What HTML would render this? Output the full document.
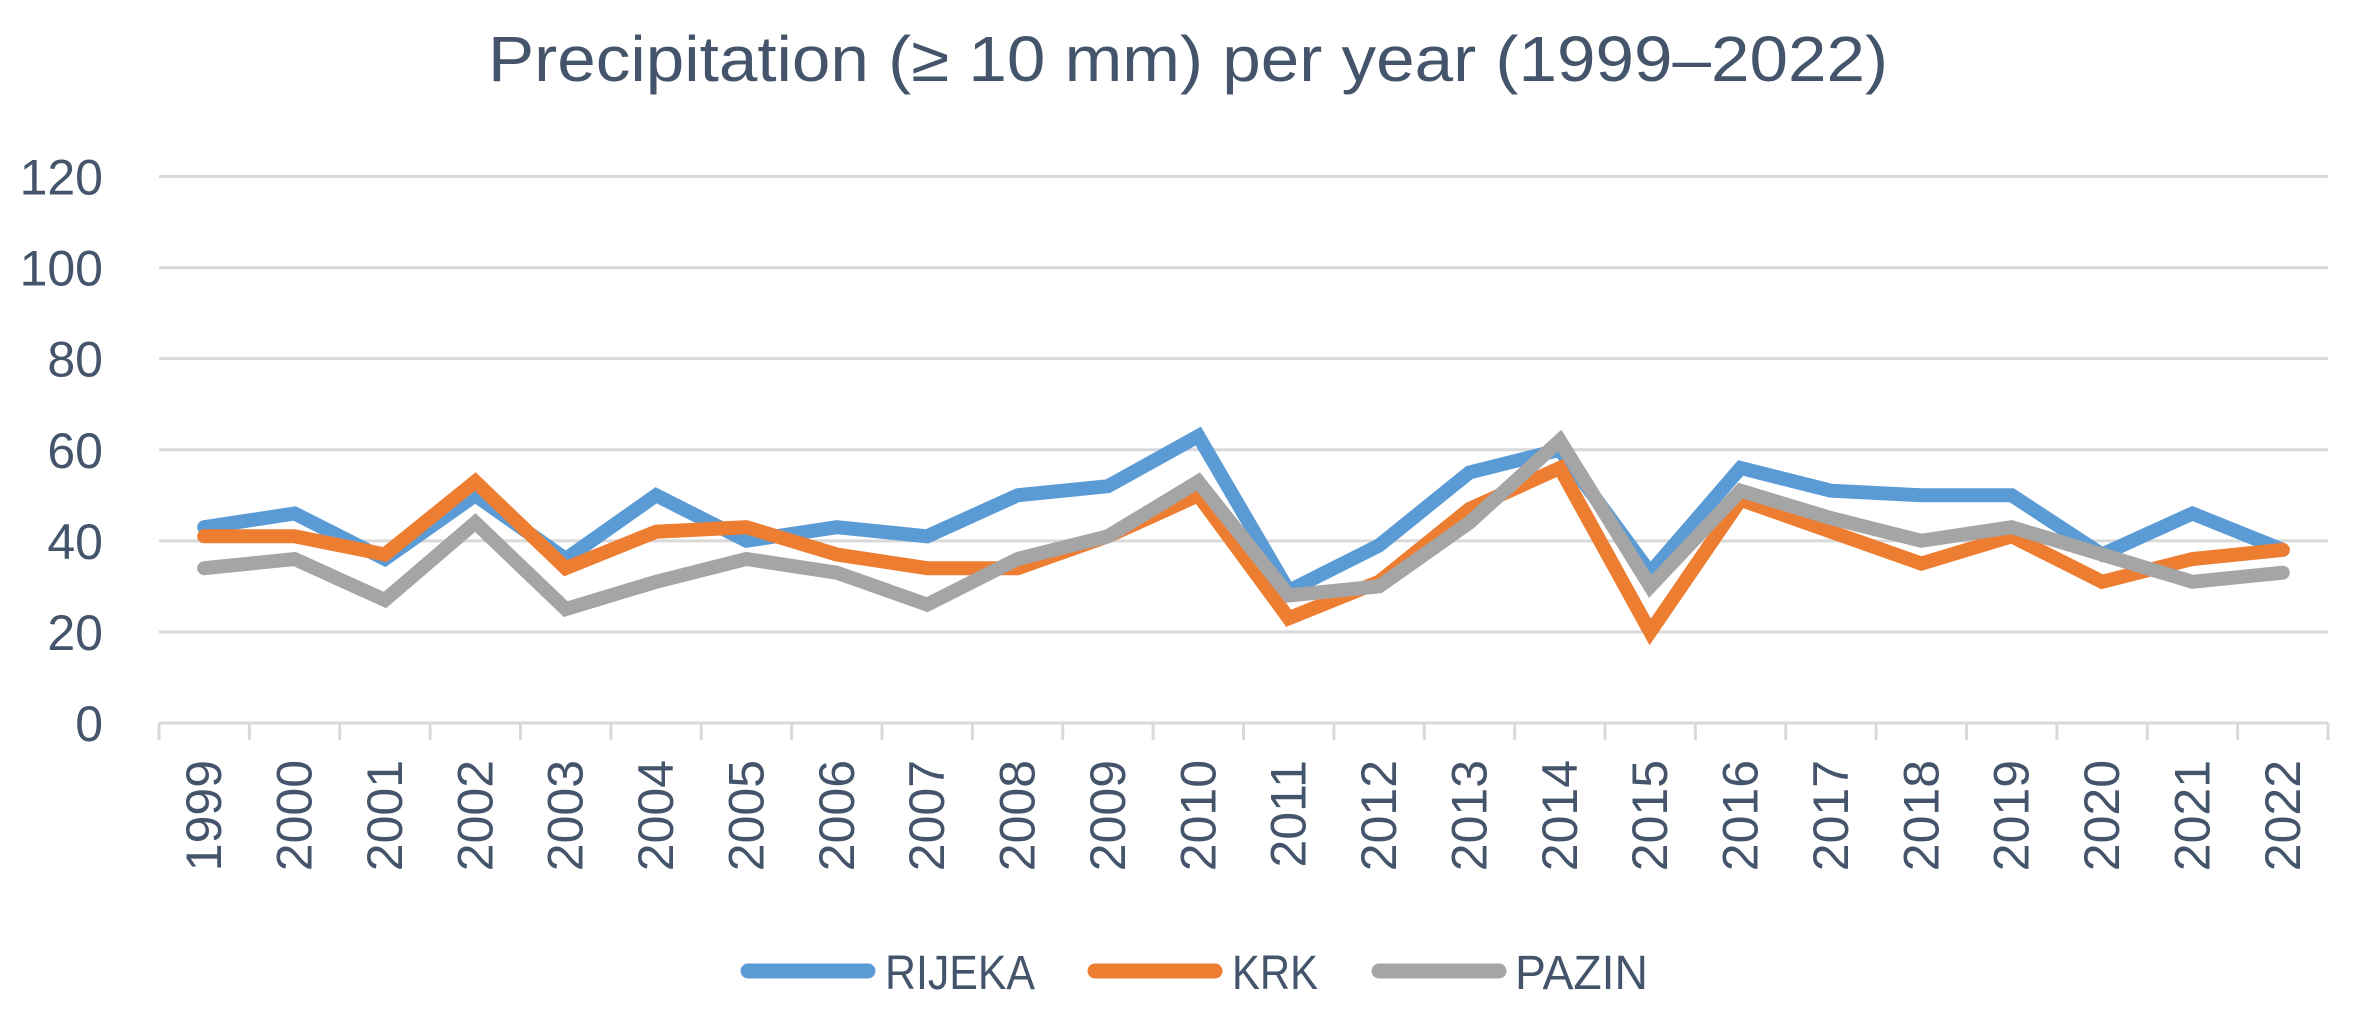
<!DOCTYPE html>
<html><head><meta charset="utf-8"><style>
html,body{margin:0;padding:0;background:#fff;}
svg{display:block;font-family:"Liberation Sans",sans-serif;}
</style></head><body>
<svg id="chart" width="2365" height="1021" viewBox="0 0 2365 1021">
<text x="1188" y="81" text-anchor="middle" font-size="64" fill="#44546a" textLength="1400" lengthAdjust="spacingAndGlyphs">Precipitation (≥ 10 mm) per year (1999–2022)</text>
<g id="grid"></g>
<g id="yticks"></g>
<g id="xaxis"></g>
<g id="series"></g>
<g>
<g>
<line x1="748" y1="971" x2="868" y2="971" stroke="#5b9bd5" stroke-width="15" stroke-linecap="round"/>
<text x="885" y="989" font-size="48" fill="#44546a" textLength="150" lengthAdjust="spacingAndGlyphs">RIJEKA</text></g>
<g>
<line x1="1095" y1="971" x2="1215" y2="971" stroke="#ed7d31" stroke-width="15" stroke-linecap="round"/>
<text x="1232" y="989" font-size="48" fill="#44546a" textLength="86" lengthAdjust="spacingAndGlyphs">KRK</text></g>
<g>
<line x1="1379" y1="971" x2="1499" y2="971" stroke="#a5a5a5" stroke-width="15" stroke-linecap="round"/>
<text x="1515" y="989" font-size="48" fill="#44546a" textLength="133" lengthAdjust="spacingAndGlyphs">PAZIN</text></g>
</g>
</svg>
<script>
const years = ["1999","2000","2001","2002","2003","2004","2005","2006","2007","2008","2009","2010","2011","2012","2013","2014","2015","2016","2017","2018","2019","2020","2021","2022"];
const rijeka = [43,46,36,50,36,50,40,43,41,50,52,63,29,39,55,60,33,56,51,50,50,37,46,38];
const krk = [41,41,37,53,34,42,43,37,34,34,41,50,23,31,47,56,20,49,42,35,41,31,36,38];
const pazin = [34,36,27,44,25,31,36,33,26,36,41,53,28,30,44,62,30,51,45,40,43,37,31,33];
const yTicks = [0,20,40,60,80,100,120];

const NS = "http://www.w3.org/2000/svg";
const L = 159, R = 2328, Y0 = 723, YMAXPX = 176.5, YMAX = 120;
const band = (R - L) / years.length;
function xPos(i){ return L + band * (i + 0.5); }
function yPos(v){ return Y0 - (v / YMAX) * (Y0 - YMAXPX); }
function mk(tag, attrs, parent){ const e = document.createElementNS(NS, tag); for (const k in attrs) e.setAttribute(k, attrs[k]); parent.appendChild(e); return e; }

const grid = document.getElementById('grid');
const yt = document.getElementById('yticks');
yTicks.forEach(v => {
  const y = yPos(v);
  if (v > 0) {
    const gl = mk('line', {x1:L, x2:R, y1:y, y2:y, stroke:'#d9d9d9', 'stroke-width':3}, grid);
    
    
  }
  const t = mk('text', {x:103, y:y+18, 'text-anchor':'end', 'font-size':50, fill:'#44546a'}, yt);
  t.textContent = v;
  
  
});

const xa = document.getElementById('xaxis');
const ax = mk('line', {x1:L, x2:R, y1:Y0, y2:Y0, stroke:'#d9d9d9', 'stroke-width':3}, xa);


for (let i = 0; i <= years.length; i++) {
  const x = L + band * i;
  const tk = mk('line', {x1:x, x2:x, y1:Y0, y2:Y0+17, stroke:'#d9d9d9', 'stroke-width':3}, xa);
  
  
}
years.forEach((yr, i) => {
  const x = xPos(i) + 17;
  const t = mk('text', {x:x, y:760, 'text-anchor':'end', 'font-size':50, fill:'#44546a', transform:'rotate(-90 ' + x + ' 760)'}, xa);
  t.textContent = yr;
  
  
});

const sg = document.getElementById('series');
[[rijeka,'#5b9bd5','rijeka'],[krk,'#ed7d31','krk'],[pazin,'#a5a5a5','pazin']].forEach(([vals,col,name]) => {
  const pts = vals.map((v,i) => xPos(i).toFixed(1) + ',' + yPos(v).toFixed(1)).join(' ');
  const pl = mk('polyline', {points:pts, fill:'none', stroke:col, 'stroke-width':14, 'stroke-linejoin':'miter', 'stroke-linecap':'round'}, sg);
  
  
});
</script>
</body></html>
